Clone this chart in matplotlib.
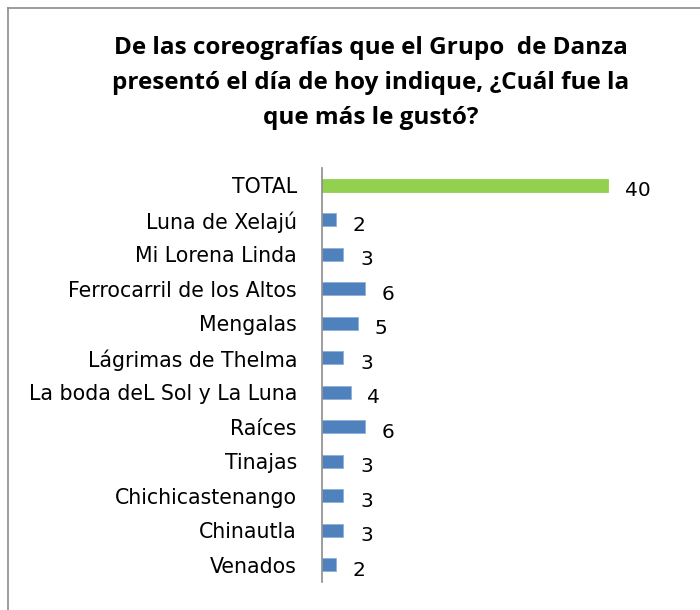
import matplotlib
matplotlib.use('Agg')
import matplotlib.pyplot as plt
from matplotlib.lines import Line2D

# Data (top to bottom as in the chart)
categories = ['TOTAL', 'Luna de Xelajú', 'Mi Lorena Linda', 'Ferrocarril de los Altos',
              'Mengalas', 'Lágrimas de Thelma', 'La boda deL Sol y La Luna', 'Raíces',
              'Tinajas', 'Chichicastenango', 'Chinautla', 'Venados']
values = [40, 2, 3, 6, 5, 3, 4, 6, 3, 3, 3, 2]
title = ('De las coreografías que el Grupo  de Danza\n'
         'presentó el día de hoy indique, ¿Cuál fue la\n'
         'que más le gustó?')

plt.rcParams['font.family'] = ['DejaVu Sans']

fig = plt.figure(figsize=(7.0, 6.1), dpi=100)

# chart frame (only left and top edges visible)
fig.add_artist(Line2D([8/700, 8/700], [0, 1 - 8/610], color='#8c8c8c', lw=1.2))
fig.add_artist(Line2D([8/700, 1], [1 - 8/610, 1 - 8/610], color='#8c8c8c', lw=1.2))

fig.text(371/700, 1 - 36/610, title, ha='center', va='top', fontsize=17.5,
         fontweight='bold', family=['Open Sans', 'DejaVu Sans'], linespacing=1.6)

ax = fig.add_axes([322/700, 28/610, 338/700, 414/610])
n = len(categories)
ypos = list(range(n))
colors = ['#92D050'] + ['#4F81BD'] * (n - 1)
ax.barh(ypos, values, height=0.38, color=colors, edgecolor=['#92D050'] + ['#8DB0DA'] * (n - 1),
        linewidth=0.6)
ax.set_xlim(0, 338/7.15)
ax.set_ylim(n - 0.5, -0.5)
ax.set_yticks(ypos)
ax.set_yticklabels(categories, fontsize=14.8)
ax.tick_params(axis='y', length=0, pad=18)
ax.set_xticks([])
for s in ['top', 'right', 'bottom']:
    ax.spines[s].set_visible(False)
ax.spines['left'].set_color('#8c8c8c')
ax.spines['left'].set_linewidth(1.2)

for y, v in zip(ypos, values):
    ax.annotate(str(v), (v, y), xytext=(12, -4), textcoords='offset points',
                ha='left', va='center', fontsize=14.5)

fig.savefig('out.png', dpi=100, facecolor='white')
